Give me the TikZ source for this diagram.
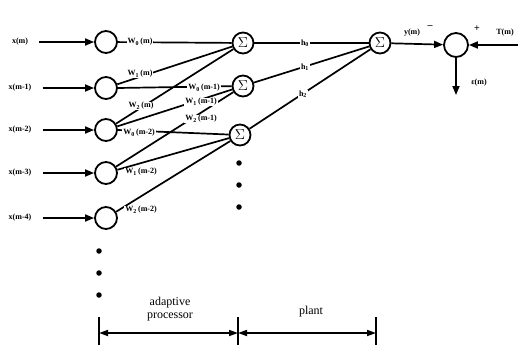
\documentclass[tikz,border=0pt]{standalone}
\usepackage{fontspec}
\setmainfont{Liberation Serif}
\usetikzlibrary{arrows.meta}
\begin{document}
\begin{tikzpicture}[x=1pt,y=-1pt,
  ln/.style={line width=1.7pt},
  delay/.style={circle,draw,line width=1.8pt,minimum size=22pt,inner sep=0pt},
  summer/.style={circle,draw,line width=1.8pt,minimum size=21pt,inner sep=0pt,font=\Large},
  wt/.style={font=\fontsize{8}{9}\selectfont\bfseries,fill=white,inner sep=0.8pt},
  sig/.style={font=\fontsize{8}{9}\selectfont\bfseries,inner sep=1pt},
  captext/.style={font=\fontsize{12}{13}\selectfont,inner sep=1pt},
  arr/.style={ln,-{Triangle[length=9pt,width=7pt]}},
  dim/.style={ln,{Triangle[length=9pt,width=6pt]}-{Triangle[length=9pt,width=6pt]}},
  bigdot/.style={circle,fill,inner sep=0pt,minimum size=5.5pt}
]
\useasboundingbox (0,0) rectangle (518,345);

% tapped delay line inputs
\foreach \i/\y/\t in {0/42/x(m),1/88/x(m-1),2/130/x(m-2),3/173/x(m-3),4/218/x(m-4)}{
  \node[sig] (x\i) at (20,\y) {\t};
  \node[delay] (c\i) at (106,\y) {};
  \draw[arr] ([xshift=10pt]x\i.east) -- (c\i);
}
\foreach \y [count=\k] in {251,273,295}{\node[bigdot] (cd\k) at (99,\y) {};}

% adaptive summers
\node[summer] (s0) at (243,43) {$\Sigma$};
\node[summer] (s1) at (243,86) {$\Sigma$};
\node[summer] (s2) at (240,135) {$\Sigma$};
\foreach \y [count=\k] in {163,185,207}{\node[bigdot] (sd\k) at (239,\y) {};}

% plant summer and error junction
\node[summer] (p) at (380,43) {$\Sigma$};
\node[delay,minimum size=24pt] (e) at (456,45) {};

% weighted taps
\draw[ln] (c0) -- (s0);
\draw[ln] (c1) -- (s0);
\draw[ln] (c2) -- (s0);
\draw[ln] (c1.east) -- (s1);
\draw[ln] (c2) -- (s1);
\draw[ln] (c3) -- (s1);
\draw[ln] (c2.east) -- (s2);
\draw[ln] (c3) -- (s2);
\draw[ln] (c4) -- (s2);

\node[wt] (w00) at (140,42) {W\textsubscript{0}\,(m)};
\node[wt] (w10) at (140,74) {W\textsubscript{1}\,(m)};
\node[wt] (w20) at (141,106) {W\textsubscript{2}\,(m)};
\node[wt] (w01) at (204,88) {W\textsubscript{0}\,(m-1)};
\node[wt] (w11) at (201,102) {W\textsubscript{1}\,(m-1)};
\node[wt] (w21) at (201,119) {W\textsubscript{2}\,(m-1)};
\node[wt] (w02) at (139,133) {W\textsubscript{0}\,(m-2)};
\node[wt] (w12) at (141,172) {W\textsubscript{1}\,(m-2)};
\node[wt] (w22) at (141,210) {W\textsubscript{2}\,(m-2)};

% plant taps
\draw[ln] (s0) -- (p);
\draw[ln] (s1) -- (p);
\draw[ln] (s2) -- (p);
\node[wt] (h0) at (305,43) {h\textsubscript{0}};
\node[wt] (h1) at (305,67) {h\textsubscript{1}};
\node[wt] (h2) at (303,94) {h\textsubscript{2}};

% output, target and error
\draw[arr] (p) -- (e);
\node[sig] (y) at (412,33) {y(m)};
\node[font=\bfseries] (minus) at (430,27) {\textendash};
\node[font=\bfseries] (plus) at (477,29) {+};
\node[sig] (T) at (505,33) {T(m)};
\coordinate (tin) at (518,45);
\draw[arr] (tin) -- (e);
\coordinate (eout) at (456,95);
\draw[arr] (e) -- (eout);
\node[sig] (err) at (479,83) {ε(m)};

% extent of the two blocks
\draw[ln] (99,317) -- (99,345);
\draw[ln] (238,317) -- (238,345);
\draw[ln] (376,317) -- (376,345);
\coordinate (b1) at (99,333);
\coordinate (b2) at (238,333);
\coordinate (b3) at (376,333);
\draw[dim] (b1) -- (b2);
\draw[dim] (b2) -- (b3);
\node[captext,align=center] (ap) at (170,309) {adaptive\\processor};
\node[captext] (pl) at (311,312) {plant};
\end{tikzpicture}
\end{document}
